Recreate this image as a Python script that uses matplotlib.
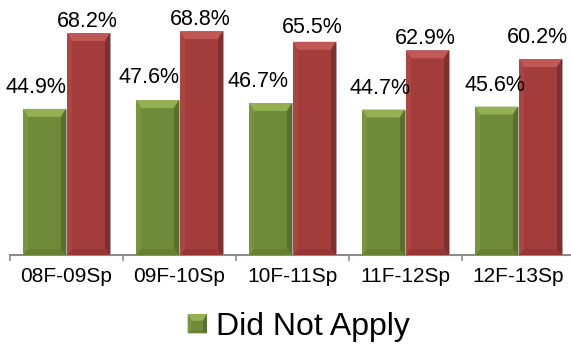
import matplotlib
matplotlib.use("Agg")
import matplotlib.pyplot as plt
from matplotlib.patches import Polygon, Patch
from matplotlib.legend_handler import HandlerPatch
import numpy as np

plt.rcParams['font.family'] = ['Liberation Sans', 'DejaVu Sans']

# Data
periods = ["08F-09Sp", "09F-10Sp", "10F-11Sp", "11F-12Sp", "12F-13Sp"]
did_not_apply = [44.9, 47.6, 46.7, 44.7, 45.6]
applied = [68.2, 68.8, 65.5, 62.9, 60.2]

# label nudges in pixels (dx, dy above bar top)
green_nudge = [(-8.5, 16), (-8.5, 17), (-12, 16), (-3, 16), (-1.5, 16)]
red_nudge = [(-1, 6), (-1.5, 6), (-2, 8.5), (-2, 6), (-3, 16)]

GREEN = dict(face="#6F8B39", top="#93B052", left="#78953F", right="#58702B", bottom="#66802F")
RED = dict(face="#A33D3B", top="#C25856", left="#AC4442", right="#812F2D", bottom="#973634")

W, H = 571, 346
fig = plt.figure(figsize=(W / 100, H / 100), dpi=100)
# axes spans x 10..575 px, y baseline at 255 px from top up to the top edge
ax = fig.add_axes([10 / W, (H - 255) / H, 565 / W, 255 / H])
px_per_unit_x = 113.0
px_per_pct = 3.255
ax.set_xlim(-0.5, 4.5)
ax.set_ylim(0, 255 / px_per_pct)


def bevel(x0, y0, w, h, bx, bt, bb, c, transform, zorder=3):
    x1, y1 = x0 + w, y0 + h
    bt = min(bt, h * 0.45)
    bb = min(bb, h * 0.3)
    polys = [
        ([(x0, y1), (x1, y1), (x1 - bx, y1 - bt), (x0 + bx, y1 - bt)], c["top"]),
        ([(x0, y0), (x1, y0), (x1 - bx, y0 + bb), (x0 + bx, y0 + bb)], c["bottom"]),
        ([(x0, y1), (x0 + bx, y1 - bt), (x0 + bx, y0 + bb), (x0, y0)], c["left"]),
        ([(x1, y1), (x1 - bx, y1 - bt), (x1 - bx, y0 + bb), (x1, y0)], c["right"]),
    ]
    arts = []
    for pts, col in polys:
        arts.append(Polygon(pts, closed=True, facecolor=col, edgecolor="none",
                            transform=transform, zorder=zorder))
    return arts


x = np.arange(len(periods))
bw = 0.38
off = 0.195
bars_g = ax.bar(x - off, did_not_apply, bw, color=GREEN["face"], edgecolor="#A8A8A8",
                linewidth=0.6, zorder=2, label="Did Not Apply")
bars_r = ax.bar(x + off, applied, bw, color=RED["face"], edgecolor="#A8A8A8",
                linewidth=0.6, zorder=2)

bx = 5 / px_per_unit_x
bt = 8 / px_per_pct
bb = 6 / px_per_pct
for bars, cols in ((bars_g, GREEN), (bars_r, RED)):
    for b in bars:
        for a in bevel(b.get_x(), b.get_y(), b.get_width(), b.get_height(),
                       bx, bt, bb, cols, ax.transData):
            ax.add_patch(a)

for bars, vals, nud in ((bars_g, did_not_apply, green_nudge), (bars_r, applied, red_nudge)):
    for b, v, (dx, dy) in zip(bars, vals, nud):
        ax.annotate(f"{v:.1f}%", (b.get_x() + b.get_width() / 2, v),
                    xytext=(dx, dy), textcoords="offset pixels",
                    ha="center", va="baseline", fontsize=15.5, color="#000000",
                    annotation_clip=False, zorder=5)

for s in ("top", "left", "right"):
    ax.spines[s].set_visible(False)
ax.spines["bottom"].set_color("#8C8C8C")
ax.spines["bottom"].set_linewidth(1.5)
ax.set_yticks([])
ax.set_xticks(np.arange(-0.5, len(periods), 1.0))
ax.set_xticklabels([])
ax.tick_params(axis="x", which="major", direction="out", length=4.5, width=1.2,
               color="#8C8C8C")
ax.set_xticks(x, minor=True)
ax.set_xticklabels(periods, minor=True, fontsize=15)
ax.tick_params(axis="x", which="minor", length=0, pad=8.5)


class BevelHandler(HandlerPatch):
    def create_artists(self, legend, orig_handle, xdescent, ydescent, width, height,
                       fontsize, trans):
        s = height
        x0 = -xdescent + (width - s) / 2
        y0 = -ydescent
        base = Polygon([(x0, y0), (x0 + s, y0), (x0 + s, y0 + s), (x0, y0 + s)],
                       closed=True, facecolor=GREEN["face"], edgecolor="none",
                       transform=trans)
        arts = [base] + bevel(x0, y0, s, s, s * 0.2, s * 0.35, s * 0.15, GREEN, trans)
        return arts


leg = fig.legend(handles=[Patch(facecolor=GREEN["face"], label="Did Not Apply")],
                 loc="center", bbox_to_anchor=(299 / W, 1 - 327 / H),
                 frameon=False, fontsize=23, handlelength=0.55, handleheight=0.55,
                 handletextpad=0.3, borderpad=0, borderaxespad=0,
                 handler_map={Patch: BevelHandler()})

fig.savefig("out.png", dpi=100)
